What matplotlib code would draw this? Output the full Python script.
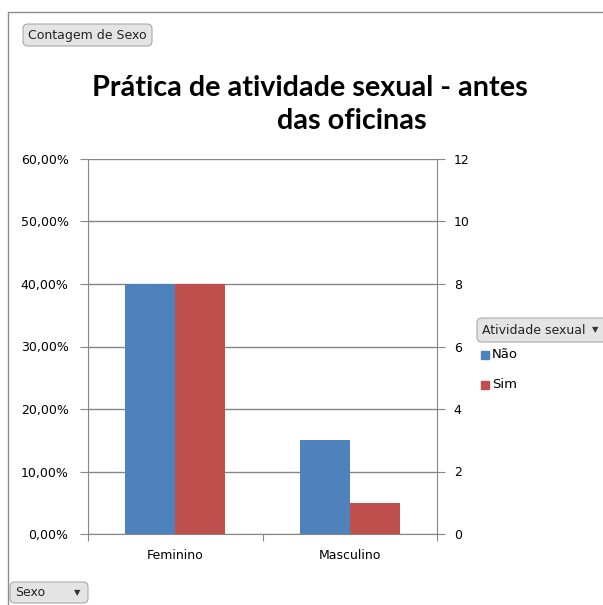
import numpy as np
import matplotlib
matplotlib.use("Agg")
import matplotlib.pyplot as plt
from matplotlib.patches import FancyBboxPatch, Rectangle

# counts per sex and answer
categorias = ["Feminino", "Masculino"]
series = ["Não", "Sim"]
nao = [8, 3]
sim = [8, 1]
total = sum(nao) + sum(sim)

pct_ticks = [0, 10, 20, 30, 40, 50, 60]
cnt_ticks = [0, 2, 4, 6, 8, 10, 12]

cores = ["#4F81BD", "#C0504D"]
cinza = "#868686"

W, H = 603, 605
fig = plt.figure(figsize=(W / 100, H / 100), dpi=100)
fig.patch.set_facecolor("white")

# chart frame
fig.add_artist(Rectangle((8 / W, -0.1), 1.2, 1 - 12 / H + 0.1,
                         transform=fig.transFigure, fill=False,
                         edgecolor="#8c8c8c", lw=1.0))

ax = fig.add_axes([88 / W, 71 / H, 349 / W, 375 / H])
x = np.arange(len(categorias))
w = 1 / 1.75 / 2
for i, vals in enumerate([nao, sim]):
    pct = [v / total * 100 for v in vals]
    ax.bar(x + (i - 0.5) * w, pct, width=w, color=cores[i], zorder=3)

ax.set_xlim(-0.5, 1.5)
ax.set_ylim(0, 60)
ax.set_yticks(pct_ticks)
ax.set_yticklabels(["%d,00%%" % t for t in pct_ticks])
ax.yaxis.grid(True, color=cinza, lw=1.0, zorder=0)
ax.set_xticks([-0.5, 0.5, 1.5])
ax.set_xticklabels([])
ax.set_xticks(x, minor=True)
ax.set_xticklabels(categorias, minor=True)
ax.tick_params(axis="x", which="major", length=5, color=cinza, direction="out")
ax.tick_params(axis="x", which="minor", length=0, pad=11, labelsize=9)
ax.tick_params(axis="y", length=6, color=cinza, labelsize=9, pad=8)
for s in ["top", "right"]:
    ax.spines[s].set_visible(False)
for s in ["left", "bottom"]:
    ax.spines[s].set_color(cinza)

ax2 = ax.twinx()
ax2.set_ylim(0, 12)
ax2.set_yticks(cnt_ticks)
ax2.tick_params(axis="y", length=6, color=cinza, labelsize=9, pad=6)
for s in ["top", "left", "bottom"]:
    ax2.spines[s].set_visible(False)
ax2.spines["right"].set_color(cinza)

# title
fig.text(310 / W, 1 - 88 / H, "Prática de atividade sexual - antes",
         family="Lato", weight="bold", fontsize=20.7, ha="center", va="center")
fig.text(352 / W, 1 - 121 / H, "das oficinas",
         family="Lato", weight="bold", fontsize=20.7, ha="center", va="center")


def botao(x0, y0, x1, y1, texto, seta=False):
    fig.add_artist(FancyBboxPatch((x0 / W, 1 - y1 / H), (x1 - x0) / W, (y1 - y0) / H,
                                  boxstyle="round,pad=0,rounding_size=0.008",
                                  transform=fig.transFigure,
                                  facecolor="#e4e4e4", edgecolor="#a9a9a9", lw=0.8))
    fig.text((x0 + 5) / W, 1 - (y0 + y1) / 2 / H, texto, fontsize=9,
             ha="left", va="center", color="#222222")
    if seta:
        fig.text((x1 - 8) / W, 1 - (y0 + y1) / 2 / H, "▼", fontsize=6,
                 ha="right", va="center", color="#333333")


botao(23, 24, 152, 46, "Contagem de Sexo")
botao(10, 582, 88, 603, "Sexo", seta=True)
botao(477, 318, 610, 342, "Atividade sexual", seta=False)
fig.text(598 / W, 1 - 330 / H, "▼", fontsize=6, ha="right", va="center", color="#333333")

# legend entries
for i, nome in enumerate(series):
    yc = 355 + i * 30
    fig.add_artist(Rectangle((481 / W, 1 - (yc + 4) / H), 8 / W, 8 / H,
                             transform=fig.transFigure, color=cores[i]))
    fig.text(492 / W, 1 - yc / H, nome, fontsize=9.5, ha="left", va="center")

fig.savefig("out.png", dpi=100)
